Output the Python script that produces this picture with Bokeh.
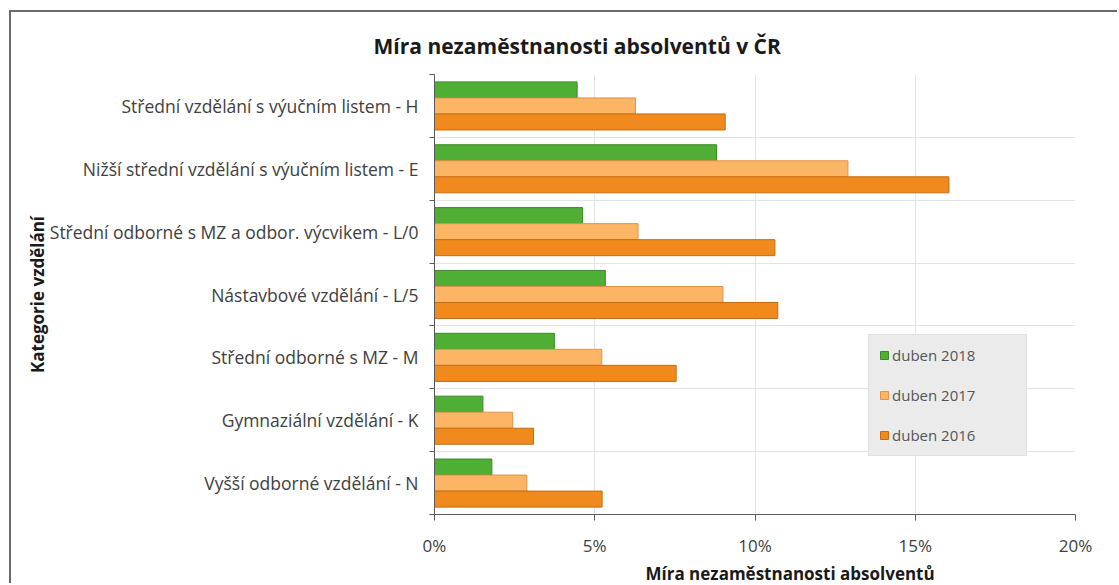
from bokeh.plotting import figure
from bokeh.models import FixedTicker, PrintfTickFormatter, Legend, LegendItem, Range1d, Title
from bokeh.embed import file_html
from bokeh.resources import INLINE

# ---- data (top to bottom as in the chart) ----
categories = [
    "Střední vzdělání s výučním listem - H",
    "Nižší střední vzdělání s výučním listem - E",
    "Střední odborné s MZ a odbor. výcvikem - L/0",
    "Nástavbové vzdělání - L/5",
    "Střední odborné s MZ - M",
    "Gymnaziální vzdělání - K",
    "Vyšší odborné vzdělání - N",
]
series_names = ["duben 2018", "duben 2017", "duben 2016"]
v2018 = [4.45, 8.80, 4.62, 5.33, 3.74, 1.51, 1.79]
v2017 = [6.27, 12.90, 6.35, 9.00, 5.22, 2.44, 2.88]
v2016 = [9.07, 16.05, 10.62, 10.71, 7.54, 3.09, 5.23]
x_ticks = [0, 5, 10, 15, 20]

FONT = "Open Sans"
n = len(categories)
centers = [n - i - 0.5 for i in range(n)]
bounds = list(range(n + 1))
bh = 0.255

p = figure(width=1108, height=573, x_range=Range1d(0, 20), y_range=Range1d(0, n),
           output_backend="svg", toolbar_location=None,
           min_border_left=423, min_border_right=44, min_border_top=62, min_border_bottom=71)
p.styles = {"margin-left": "9px", "margin-top": "10px",
            "border-left": "2px solid #6b6b6b", "border-top": "2px solid #6b6b6b"}
p.outline_line_color = None
p.background_fill_color = "white"
p.border_fill_color = "white"

p.title = Title(text="Míra nezaměstnanosti absolventů v ČR", align="left", offset=-61,
                text_font=FONT, text_font_size="21px", text_font_style="bold",
                text_color="#1a1a1a", standoff=29)

r18 = p.hbar(y=[c + bh for c in centers], right=v2018, left=0, height=bh,
             fill_color="#4fae34", line_color="#3d8a28", line_width=1)
r17 = p.hbar(y=centers, right=v2017, left=0, height=bh,
             fill_color="#fcb465", line_color="#e0934a", line_width=1)
r16 = p.hbar(y=[c - bh for c in centers], right=v2016, left=0, height=bh,
             fill_color="#f08a1c", line_color="#c46c14", line_width=1)

# y axis
ya = p.yaxis[0]
ya.ticker = FixedTicker(ticks=centers, minor_ticks=bounds)
ya.major_label_overrides = {c: lab for c, lab in zip(centers, categories)}
ya.major_tick_line_color = None
ya.minor_tick_out = 5
ya.minor_tick_in = 0
ya.minor_tick_line_color = "#595959"
ya.axis_line_color = "#595959"
ya.major_label_text_font = FONT
ya.major_label_text_font_size = "17.5px"
ya.major_label_text_color = "#404040"
ya.major_label_standoff = 10
ya.axis_label = "Kategorie vzdělání"
ya.axis_label_text_font = FONT
ya.axis_label_text_font_size = "17px"
ya.axis_label_text_font_style = "bold"
ya.axis_label_text_color = "#1a1a1a"
ya.axis_label_standoff = -2

# x axis
xa = p.xaxis[0]
xa.ticker = FixedTicker(ticks=x_ticks)
xa.formatter = PrintfTickFormatter(format="%d%%")
xa.major_tick_out = 6
xa.major_tick_in = 0
xa.major_tick_line_color = "#595959"
xa.axis_line_color = "#595959"
xa.major_label_text_font = FONT
xa.major_label_text_font_size = "17px"
xa.major_label_text_color = "#404040"
xa.major_label_standoff = 13

# x axis title, placed below the axis, shifted right as in the original
p.add_layout(Title(text="Míra nezaměstnanosti absolventů", align="left", offset=211,
                   text_font=FONT, text_font_size="17px", text_font_style="bold",
                   text_color="#1a1a1a", standoff=0), "below")

# grids
p.xgrid.grid_line_color = "#e3e3e3"
p.ygrid.ticker = FixedTicker(ticks=bounds)
p.ygrid.grid_line_color = "#e3e3e3"

legend = Legend(items=[LegendItem(label=series_names[0], renderers=[r18]),
                       LegendItem(label=series_names[1], renderers=[r17]),
                       LegendItem(label=series_names[2], renderers=[r16])],
                location=(434, 58))
legend.background_fill_color = "#ebebeb"
legend.background_fill_alpha = 1
legend.border_line_color = "#d6d6d6"
legend.label_text_font = FONT
legend.label_text_font_size = "15px"
legend.label_text_color = "#555555"
legend.glyph_width = 10
legend.glyph_height = 10
legend.label_height = 20
legend.label_width = 124
legend.label_standoff = 3
legend.spacing = 20
legend.padding = 10
p.add_layout(legend)

open("out.html", "w").write(file_html(p, INLINE))
